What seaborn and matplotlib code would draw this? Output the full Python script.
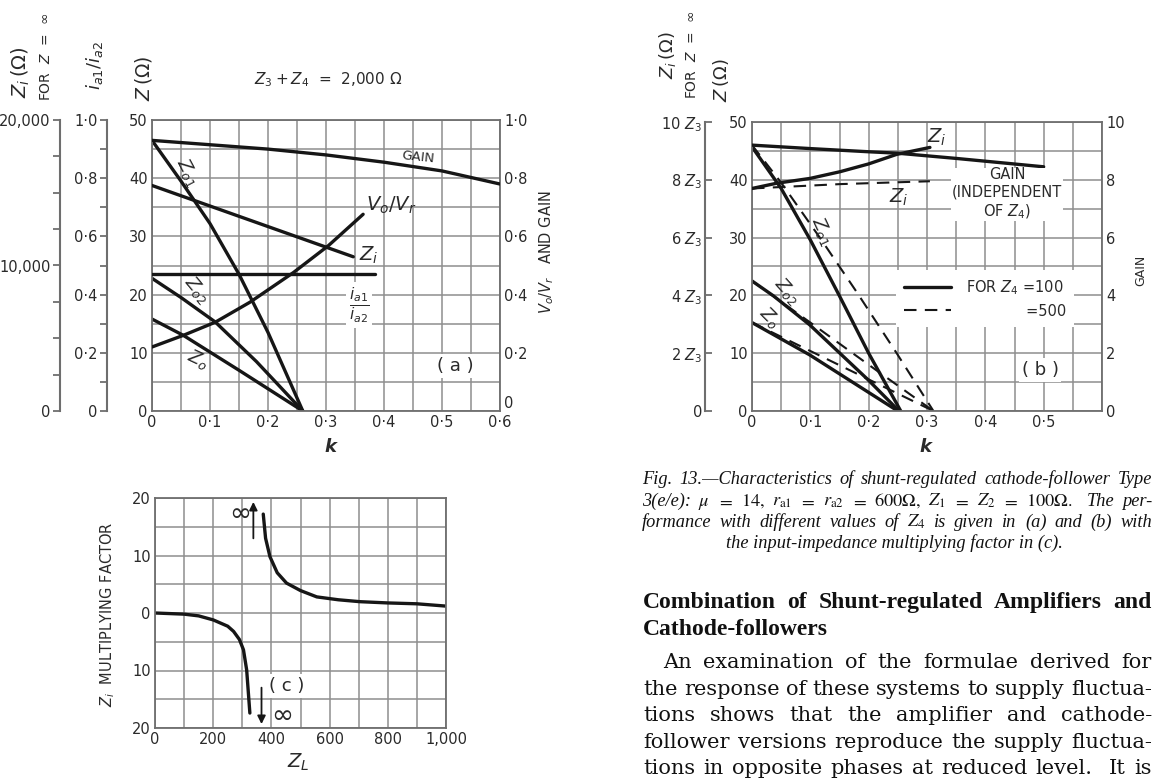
import numpy as np
import matplotlib
matplotlib.use("Agg")
import matplotlib.pyplot as plt
import seaborn as sns
from matplotlib.lines import Line2D

# ---------------- data: panel (a)  (Z3 + Z4 = 2,000 ohm) ----------------
a_gain_k = [0, 0.1, 0.2, 0.3, 0.4, 0.5, 0.6]
a_gain = [0.93, 0.915, 0.90, 0.88, 0.855, 0.825, 0.78]
a_vr_k = [0, 0.054, 0.109, 0.169, 0.244, 0.304, 0.364]
a_vr = [0.22, 0.26, 0.305, 0.374, 0.476, 0.568, 0.676]
a_zo1_k = [0, 0.05, 0.1, 0.15, 0.2, 0.26]
a_zo1 = [46.5, 39.5, 32.2, 23.5, 13.5, 0]
a_zo2_k = [0, 0.05, 0.109, 0.18, 0.26]
a_zo2 = [22.8, 19.5, 15.3, 8.5, 0]
a_zo_k = [0, 0.054, 0.15, 0.26]
a_zo = [15.8, 13.0, 7.0, 0]
a_zi_k = [0, 0.347]
a_zi = [15500, 10600]          # ohm, for Z = infinity
a_ia_k = [0, 0.384]
a_ia = [0.472, 0.472]          # i_a1 / i_a2

# ---------------- data: panel (b) ----------------
b_gain_k = [0, 0.1, 0.2, 0.25, 0.35, 0.5]
b_gain = [9.2, 9.08, 8.97, 8.92, 8.74, 8.45]
b_zi100_k = [0, 0.042, 0.1, 0.151, 0.2, 0.248, 0.305]
b_zi100 = [7.7, 7.88, 8.05, 8.28, 8.55, 8.88, 9.12]   # multiples of Z3
b_zi500_k = [0, 0.15, 0.305]
b_zi500 = [7.7, 7.85, 7.95]
b_zo1_100_k = [0, 0.05, 0.1, 0.15, 0.2, 0.255]
b_zo1_100 = [45.7, 38.5, 29.6, 19.9, 10.0, 0]
b_zo1_500_k = [0, 0.05, 0.119, 0.18, 0.248, 0.311]
b_zo1_500 = [46.0, 39.5, 29.6, 20.5, 10.0, 0]
b_zo2_100_k = [0, 0.037, 0.099, 0.199, 0.252]
b_zo2_100 = [22.5, 19.9, 14.9, 5.4, 0]
b_zo2_500_k = [0, 0.1, 0.2, 0.311]
b_zo2_500 = [22.5, 15.3, 8.0, 0]
b_zo_100_k = [0, 0.099, 0.25]
b_zo_100 = [15.3, 9.7, 0]
b_zo_500_k = [0, 0.311]
b_zo_500 = [15.3, 0]

# ---------------- data: panel (c) ----------------
c_neg_zl = [0, 100, 150, 200, 250, 270, 290, 304, 315, 326]
c_neg = [0, -0.2, -0.5, -1.2, -2.3, -3.2, -4.6, -6.4, -9.9, -17.4]
c_pos_zl = [372, 380, 395, 420, 452, 500, 556, 630, 704, 800, 900, 1000]
c_pos = [17.2, 13.0, 9.8, 7.0, 5.2, 3.9, 2.8, 2.3, 1.97, 1.75, 1.6, 1.2]

# tick labels
k_labels_a = ['0', '0·1', '0·2', '0·3', '0·4', '0·5', '0·6']
k_labels_b = ['0', '0·1', '0·2', '0·3', '0·4', '0·5', '']
frac_labels = ['0', '0·2', '0·4', '0·6', '0·8', '1·0']
zi_labels_a = ['0', '10,000', '20,000']
zi_labels_b = ['0', '2 $Z_3$', '4 $Z_3$', '6 $Z_3$', '8 $Z_3$', '10 $Z_3$']
gain_labels_b = ['0', '2', '4', '6', '8', '10']
zl_labels = ['0', '200', '400', '600', '800', '1,000']
mf_labels = ['20', '10', '0', '10', '20']

# ---------------- style ----------------
sns.set_theme(style="white")
plt.rcParams['font.family'] = ['DejaVu Sans']
plt.rcParams['mathtext.fontset'] = 'dejavusans'

W, H = 1154, 778
fig = plt.figure(figsize=(W / 100, H / 100), dpi=100)
fig.patch.set_facecolor('white')

GRID = '#8e8e8e'
SPINE = '#6e6e6e'
INK = '#161616'
TXT = '#2a2a2a'
LW = 2.4
DLW = 1.5
TICK = 10.5


def fx(px):
    return px / W


def fy(py):
    return 1 - py / H


def rect(x0, y0, x1, y1):
    return [fx(x0), fy(y1), (x1 - x0) / W, (y1 - y0) / H]


def T(px, py, s, **kw):
    kw.setdefault('ha', 'center')
    kw.setdefault('va', 'center')
    kw.setdefault('color', TXT)
    return fig.text(fx(px), fy(py), s, **kw)


WHITE = dict(facecolor='white', edgecolor='none', pad=2)


def base_axes(r, xlim, ylim, xmaj, xmin, ymaj, ymin, xlab, ylab):
    ax = fig.add_axes(r)
    ax.set_xlim(*xlim)
    ax.set_ylim(*ylim)
    ax.set_xticks(xmaj)
    ax.set_xticks(xmin, minor=True)
    ax.set_yticks(ymaj)
    ax.set_yticks(ymin, minor=True)
    ax.set_xticklabels(xlab)
    ax.set_yticklabels(ylab)
    ax.grid(True, which='both', color=GRID, lw=1.1)
    ax.set_axisbelow(True)
    ax.tick_params(which='both', length=0, labelsize=TICK, labelcolor=TXT, pad=3)
    for s in ax.spines.values():
        s.set_color(SPINE)
        s.set_linewidth(1.3)
    ax.set_facecolor('white')
    return ax


def side_axis(ax, pos, lim, ticks, labels, minor=None, direction='out'):
    t = ax.twinx()
    t.set_ylim(*lim)
    t.spines['left'].set_position(('axes', pos))
    t.spines['left'].set_visible(True)
    t.spines['left'].set_color(SPINE)
    t.spines['left'].set_linewidth(1.5)
    for s in ['right', 'top', 'bottom']:
        t.spines[s].set_visible(False)
    t.yaxis.set_ticks_position('left')
    t.set_yticks(ticks)
    t.set_yticklabels(labels)
    if minor is not None:
        t.set_yticks(minor, minor=True)
    t.tick_params(which='both', direction=direction, length=5, width=1.3,
                  color=SPINE, labelsize=TICK, labelcolor=TXT, pad=2)
    t.grid(False)
    return t


def right_axis(ax, lim, ticks, labels):
    t = ax.twinx()
    t.set_ylim(*lim)
    t.set_yticks(ticks)
    t.set_yticklabels(labels)
    for s in t.spines.values():
        s.set_visible(False)
    t.tick_params(which='both', length=0, labelsize=TICK, labelcolor=TXT, pad=3)
    t.grid(False)
    return t


def line(ax, x, y, dashed=False):
    sns.lineplot(x=x, y=y, ax=ax, color=INK,
                 linewidth=DLW if dashed else LW,
                 linestyle=(0, (6, 4)) if dashed else '-',
                 legend=False)
    ax.set_xlabel('')
    ax.set_ylabel('')


# ======================= panel (a) =======================
ax_a = base_axes(rect(152, 120, 500, 411), (0, 0.6), (0, 50),
                 np.arange(0, 0.61, 0.1), np.arange(0, 0.61, 0.05),
                 np.arange(0, 51, 10), np.arange(0, 51, 5),
                 k_labels_a, ['0', '10', '20', '30', '40', '50'])
ax_a_zi = side_axis(ax_a, -0.264, (0, 20000), [0, 10000, 20000], zi_labels_a,
                    minor=np.arange(0, 20001, 2500))
ax_a_i = side_axis(ax_a, -0.129, (0, 1), np.arange(0, 1.01, 0.2), frac_labels,
                   minor=np.arange(0, 1.01, 0.1))
ax_a_r = right_axis(ax_a, (0, 1), np.arange(0, 1.01, 0.2), frac_labels)

line(ax_a, a_zo1_k, a_zo1)
line(ax_a, a_zo2_k, a_zo2)
line(ax_a, a_zo_k, a_zo)
line(ax_a_zi, a_zi_k, a_zi)
line(ax_a_i, a_ia_k, a_ia)
line(ax_a_r, a_gain_k, a_gain)
line(ax_a_r, a_vr_k, a_vr)
for t in (ax_a_zi, ax_a_i, ax_a_r):
    t.set_xlim(0, 0.6)
ax_a_zi.set_ylim(0, 20000)
ax_a_i.set_ylim(0, 1)
ax_a_r.set_ylim(0, 1)
ax_a.set_ylim(0, 50)
ax_a_r.get_yticklabels()[0].set_va('bottom')

# ======================= panel (b) =======================
ax_b = base_axes(rect(752, 122, 1102, 411), (0, 0.6), (0, 50),
                 np.arange(0, 0.61, 0.1), np.arange(0, 0.61, 0.05),
                 np.arange(0, 51, 10), np.arange(0, 51, 5),
                 k_labels_b, ['0', '10', '20', '30', '40', '50'])
ax_b_zi = side_axis(ax_b, -0.134, (0, 10), np.arange(0, 11, 2), zi_labels_b,
                    direction='in')
ax_b_r = right_axis(ax_b, (0, 10), np.arange(0, 11, 2), gain_labels_b)

line(ax_b, b_zo1_100_k, b_zo1_100)
line(ax_b, b_zo1_500_k, b_zo1_500, dashed=True)
line(ax_b, b_zo2_100_k, b_zo2_100)
line(ax_b, b_zo2_500_k, b_zo2_500, dashed=True)
line(ax_b, b_zo_100_k, b_zo_100)
line(ax_b, b_zo_500_k, b_zo_500, dashed=True)
line(ax_b_zi, b_zi100_k, b_zi100)
line(ax_b_zi, b_zi500_k, b_zi500, dashed=True)
line(ax_b_r, b_gain_k, b_gain)
for t in (ax_b_zi, ax_b_r):
    t.set_xlim(0, 0.6)
    t.set_ylim(0, 10)
ax_b.set_ylim(0, 50)

handles = [Line2D([], [], color=INK, lw=LW),
           Line2D([], [], color=INK, lw=DLW, ls=(0, (6, 4)))]
leg = ax_b.legend(handles, ['FOR $Z_4$ =100', '             =500'],
                  loc='upper left', bbox_to_anchor=(fx(889), fy(263)),
                  bbox_transform=fig.transFigure, frameon=True, fontsize=10.5,
                  handlelength=3.2, handletextpad=1.0, borderpad=0.55,
                  labelspacing=0.45, fancybox=False)
leg.get_frame().set_facecolor('white')
leg.get_frame().set_edgecolor('none')
leg.get_frame().set_alpha(1)
for t in leg.get_texts():
    t.set_color(TXT)

# ======================= panel (c) =======================
ax_c = base_axes(rect(155, 498, 446, 728), (0, 1000), (-20, 20),
                 np.arange(0, 1001, 200), np.arange(0, 1001, 100),
                 np.arange(-20, 21, 10), np.arange(-20, 21, 5),
                 zl_labels, mf_labels[::-1])
line(ax_c, c_neg_zl, c_neg)
line(ax_c, c_pos_zl, c_pos)
ax_c.set_xlim(0, 1000)
ax_c.set_ylim(-20, 20)
ax_c.annotate('', xy=(338, 19.8), xytext=(338, 12.5),
              arrowprops=dict(arrowstyle='-|>', color=INK, lw=1.3, mutation_scale=12))
ax_c.annotate('', xy=(366, -19.8), xytext=(366, -12.5),
              arrowprops=dict(arrowstyle='-|>', color=INK, lw=1.3, mutation_scale=12))

# ======================= texts =======================
# panel (a)
T(328, 80, '$Z_3 + Z_4$  =  2,000 Ω', fontsize=11)
T(21, 72, '$Z_i\\,(\\Omega)$', rotation=90, fontsize=14)
T(46, 57, 'FOR  $Z$  =  ∞', rotation=90, fontsize=10)
T(94, 66, '$i_{a1}/i_{a2}$', rotation=90, fontsize=13)
T(143, 78, '$Z\\,(\\Omega)$', rotation=90, fontsize=13.5)
T(547, 252, '$V_o/V_r$   AND GAIN', rotation=90, fontsize=10.5)
T(330, 447, 'k', fontsize=13, fontstyle='italic', fontweight='bold')
T(418, 157, 'GAIN', fontsize=9.5, rotation=-6)
T(188, 172, '$Z_{o1}$', fontsize=13, rotation=-62)
T(391, 205, '$V_o/V_r$', fontsize=14)
T(369, 255, '$Z_i$', fontsize=14)
T(359, 305, '$\\frac{i_{a1}}{i_{a2}}$', fontsize=16, bbox=WHITE)
T(197, 290, '$Z_{o2}$', fontsize=13, rotation=-50)
T(198, 360, '$Z_o$', fontsize=13, rotation=-25)
T(455, 366, '( a )', fontsize=13, bbox=WHITE)

# panel (b)
T(668, 55, '$Z_i\\,(\\Omega)$', rotation=90, fontsize=13)
T(692, 55, 'FOR  $Z$  =  ∞', rotation=90, fontsize=10)
T(721, 80, '$Z\\,(\\Omega)$', rotation=90, fontsize=13)
T(1141, 270, 'GAIN', rotation=90, fontsize=9)
T(925, 447, 'k', fontsize=13, fontstyle='italic', fontweight='bold')
T(937, 137, '$Z_i$', fontsize=14)
T(899, 197, '$Z_i$', fontsize=14)
T(1007, 194, 'GAIN\n(INDEPENDENT\nOF $Z_4$)', fontsize=10.5, linespacing=1.2,
  bbox=dict(facecolor='white', edgecolor='none', pad=0.5))
T(822, 231, '$Z_{o1}$', fontsize=13, rotation=-65)
T(787, 291, '$Z_{o2}$', fontsize=13, rotation=-48)
T(770, 318, '$Z_o$', fontsize=13, rotation=-45)
T(1040, 370, '( b )', fontsize=13, bbox=WHITE)

# panel (c)
T(108, 614, '$Z_i$  MULTIPLYING FACTOR', rotation=90, fontsize=10.5)
T(298, 762, '$Z_L$', fontsize=14)
T(287, 686, '( c )', fontsize=13, bbox=WHITE)
T(240, 514, '∞', fontsize=19)
T(282, 716, '∞', fontsize=19)


# ======================= caption and article text =======================
def justify(words, x0, x1, yb, min_gap=4.0, **kw):
    r = fig.canvas.get_renderer()
    size = kw.pop('fontsize')
    while True:
        ts = [fig.text(0, fy(yb), w, ha='left', va='baseline', color='#111111',
                       fontsize=size, **kw) for w in words]
        ws = [t.get_window_extent(r).width if w else 0.0 for t, w in zip(ts, words)]
        gap = (x1 - x0 - sum(ws)) / (len(words) - 1)
        if gap >= min_gap or size < 6:
            break
        for t in ts:
            t.remove()
        size -= 0.25
    x = x0
    for t, w in zip(ts, ws):
        t.set_x(fx(x))
        x += w + gap
    return size


cap = dict(family='Liberation Serif', fontstyle='italic', math_fontfamily='stix')
s1 = justify('Fig. 13.—Characteristics of shunt-regulated cathode-follower Type'.split(),
             642, 1152, 484, min_gap=6.5, fontsize=14, **cap)
justify(['3(e/e):', '$\\mu$', '$=$', '$14,$', '$r_{\\rm a1}$', '$=$', '$r_{\\rm a2}$',
         '$=$', '$600\\Omega,$', '$Z_1$', '$=$', '$Z_2$', '$=$', '$100\\Omega.$', '',
         'The', 'per-'], 642, 1152, 506, min_gap=5, fontsize=s1, **cap)
justify('formance with different values of $Z_4$ is given in (a) and (b) with'.split(),
        642, 1152, 527, min_gap=5, fontsize=s1, **cap)
T(894, 548, 'the input-impedance multiplying factor in (c).', va='baseline',
  color='#111111', fontsize=s1, **cap)

head = dict(family='Liberation Serif', fontweight='bold')
s2 = justify('Combination of Shunt-regulated Amplifiers and'.split(), 643, 1152, 608,
             min_gap=11, fontsize=18, **head)
T(643, 635, 'Cathode-followers', ha='left', va='baseline', color='#111111',
  fontsize=s2, **head)

body = dict(family='DejaVu Serif')
justify('An examination of the formulae derived for'.split(), 663, 1152, 668,
        fontsize=15, **body)
justify('the response of these systems to supply fluctua-'.split(), 643, 1152, 695,
        fontsize=15, **body)
justify('tions shows that the amplifier and cathode-'.split(), 643, 1152, 721,
        fontsize=15, **body)
justify('follower versions reproduce the supply fluctua-'.split(), 643, 1152, 748,
        fontsize=15, **body)
justify(['tions', 'in', 'opposite', 'phases', 'at', 'reduced', 'level.', '', 'It', 'is'],
        643, 1152, 774, fontsize=15, **body)

fig.savefig('out.png', dpi=100, facecolor='white')
